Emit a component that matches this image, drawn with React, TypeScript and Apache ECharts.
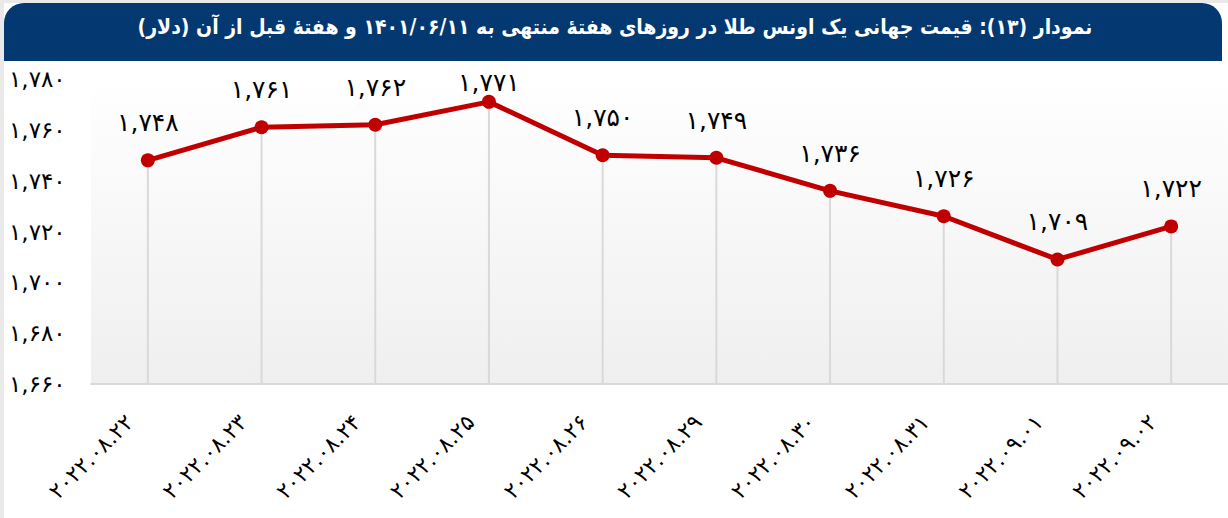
import React, { useEffect, useRef } from "react";
import * as echarts from "echarts";

const categories = [
  "2022.08.22",
  "2022.08.23",
  "2022.08.24",
  "2022.08.25",
  "2022.08.26",
  "2022.08.29",
  "2022.08.30",
  "2022.08.31",
  "2022.09.01",
  "2022.09.02",
];
const goldPrice = [1748, 1761, 1762, 1771, 1750, 1749, 1736, 1726, 1709, 1722];
const yMin = 1660;
const yMax = 1780;
const yStep = 20;
const titleText =
  "نمودار (۱۳): قیمت جهانی یک اونس طلا در روزهای هفتهٔ منتهی به ۱۴۰۱/۰۶/۱۱ و هفتهٔ قبل از آن (دلار)";

const FA = "۰۱۲۳۴۵۶۷۸۹";
const toFa = (s: string) => s.replace(/\d/g, (d) => FA[Number(d)]);
const faNum = (n: number) => toFa(n.toLocaleString("en-US"));

const FONT = '"DejaVu Sans", "Noto Sans", sans-serif';

export default function App() {
  const ref = useRef<HTMLDivElement>(null);
  useEffect(() => {
    if (!ref.current) return;
    const chart = echarts.init(ref.current, undefined, { renderer: "svg" });
    const maxV = Math.max(...goldPrice);
    chart.setOption({
      animation: false,
      backgroundColor: "#e9e9e9",
      graphic: [
        {
          type: "rect",
          z: -10,
          shape: { x: 4, y: 3, width: 1224, height: 515 },
          style: { fill: "#ffffff" },
          silent: true,
        },
        {
          type: "rect",
          z: -9,
          shape: { x: 4, y: 3, width: 1218, height: 58, r: [20, 20, 0, 0] },
          style: { fill: "#043870" },
          silent: true,
        },
        {
          type: "text",
          z: 10,
          x: 615,
          y: 27,
          style: {
            text: "\u202B" + titleText + "\u202C",
            fill: "#ffffff",
            font: 'bold 21px "DejaVu Sans Condensed", "DejaVu Sans", sans-serif',
            textAlign: "center",
            textVerticalAlign: "middle",
          },
          silent: true,
        },
      ],
      grid: {
        left: 91,
        top: 79,
        width: 1139,
        height: 305,
        show: true,
        borderWidth: 0,
        backgroundColor: new echarts.graphic.LinearGradient(0, 0, 0, 1, [
          { offset: 0, color: "#ffffff" },
          { offset: 1, color: "#efefef" },
        ]),
      },
      xAxis: {
        type: "category",
        data: categories,
        boundaryGap: true,
        axisLine: { show: true, lineStyle: { color: "#d9d9d9", width: 2 } },
        axisTick: { show: false },
        splitLine: { show: false },
        axisLabel: {
          rotate: 45,
          margin: 16,
          padding: [0, 26, 0, 0],
          fontSize: 22,
          color: "#000",
          fontFamily: FONT,
          formatter: (v: string) => toFa(v),
        },
      },
      yAxis: {
        type: "value",
        min: yMin,
        max: yMax,
        interval: yStep,
        axisLine: { show: false },
        axisTick: { show: false },
        splitLine: { show: false },
        axisLabel: {
          align: "left",
          margin: 82,
          fontSize: 23,
          color: "#000",
          fontFamily: FONT,
          formatter: (v: number) => faNum(v),
        },
      },
      series: [
        {
          type: "bar",
          data: goldPrice,
          barWidth: 2,
          itemStyle: { color: "#d9d9d9" },
          silent: true,
          z: 1,
        },
        {
          type: "line",
          data: goldPrice.map((v) =>
            v === maxV ? { value: v, label: { distance: 0 } } : v
          ),
          z: 3,
          symbol: "circle",
          symbolSize: 14,
          itemStyle: { color: "#c00000" },
          lineStyle: { color: "#c00000", width: 5 },
          label: {
            show: true,
            position: "top",
            distance: 18,
            fontSize: 25,
            color: "#000",
            fontFamily: FONT,
            formatter: (p: any) => faNum(p.value),
          },
        },
      ],
    });
    return () => chart.dispose();
  }, []);
  return (
    <div
      ref={ref}
      style={{ position: "fixed", left: 0, top: 0, width: 1228, height: 518 }}
    />
  );
}
